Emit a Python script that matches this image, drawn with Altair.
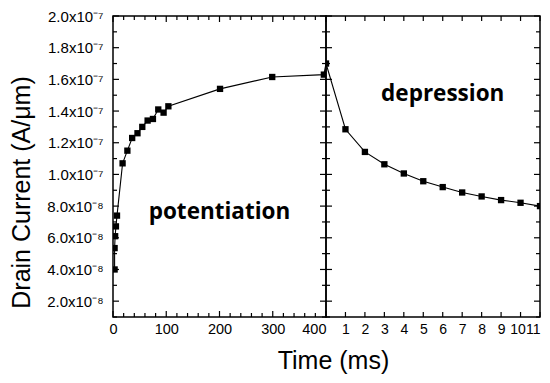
import altair as alt
import pandas as pd

# ---- data ----
# Potentiation branch: time (ms), drain current (A/um)
pot_time = [3, 3, 4, 5.5, 7.5, 18, 27, 36, 46, 55, 65, 75, 85, 95, 104, 201, 299, 396, 400]
pot_current = [4.0e-8, 5.35e-8, 6.1e-8, 6.72e-8, 7.4e-8, 1.07e-7, 1.15e-7, 1.23e-7, 1.26e-7,
               1.30e-7, 1.34e-7, 1.35e-7, 1.41e-7, 1.39e-7, 1.43e-7, 1.54e-7, 1.615e-7,
               1.63e-7, 1.70e-7]
# Depression branch: time (ms), drain current (A/um)
dep_time = [0, 1, 2, 3, 4, 5, 6, 7, 8, 9, 10, 11]
dep_current = [1.70e-7, 1.285e-7, 1.142e-7, 1.064e-7, 1.006e-7, 9.57e-8, 9.2e-8,
               8.86e-8, 8.61e-8, 8.38e-8, 8.21e-8, 8.0e-8]

# ticks
y_major = [2e-8, 4e-8, 6e-8, 8e-8, 1.0e-7, 1.2e-7, 1.4e-7, 1.6e-7, 1.8e-7, 2.0e-7]
y_minor = [1e-8, 3e-8, 5e-8, 7e-8, 9e-8, 1.1e-7, 1.3e-7, 1.5e-7, 1.7e-7, 1.9e-7]
x_left_major = [0, 100, 200, 300, 400]
x_left_minor = [20, 40, 60, 80, 120, 140, 160, 180, 220, 240, 260, 280, 320, 340, 360, 380]
x_right_major = [1, 2, 3, 4, 5, 6, 7, 8, 9, 10, 11]

# annotations
ann_left_text = ["potentiation"]
ann_left_t = [200]
ann_left_i = [7.65e-8]
ann_right_text = ["depression"]
ann_right_t = [6]
ann_right_i = [1.51e-7]

W_L, W_R, H = 213, 214, 301
FONT = "Liberation Sans"

pot_df = pd.DataFrame({"t": pot_time, "i": pot_current})
dep_df = pd.DataFrame({"t": dep_time, "i": dep_current})

y_scale = alt.Scale(domain=[1e-8, 2e-7], nice=False, zero=False)
label_expr = ("datum.value > 9.5e-8 ? format(datum.value*1e7, '.1f') + 'x10\u207b\u2077' "
              ": format(datum.value*1e8, '.1f') + 'x10\u207b\u2078'")

y_axis_left = alt.Axis(values=y_major, labelExpr=label_expr, title="Drain Current (A/\u03bcm)",
                       titleX=-79, titleY=176, titleAlign="center", labelOverlap=False,
                       labelPadding=10, labelFontSize=15)


def yenc(show):
    if show:
        return alt.Y("i:Q", scale=y_scale, axis=y_axis_left)
    return alt.Y("i:Q", scale=y_scale, axis=None)


def yticks(vals, length, width, show):
    df = pd.DataFrame({"i": vals})
    left = alt.Chart(df).mark_rule(color="black", strokeWidth=1.2).encode(
        y=yenc(show), x=alt.value(0), x2=alt.value(length))
    right = alt.Chart(df).mark_rule(color="black", strokeWidth=1.2).encode(
        y=yenc(show), x=alt.value(width - length), x2=alt.value(width))
    return [left, right]


def xticks(vals, length, xenc_fn):
    df = pd.DataFrame({"t": vals})
    top = alt.Chart(df).mark_rule(color="black", strokeWidth=1.2).encode(
        x=xenc_fn(), y=alt.value(0), y2=alt.value(length))
    bottom = alt.Chart(df).mark_rule(color="black", strokeWidth=1.2).encode(
        x=xenc_fn(), y=alt.value(H - length), y2=alt.value(H))
    return [top, bottom]


# ---- left panel ----
xl_scale = alt.Scale(domain=[0, 400], nice=False, zero=False)


def xl():
    return alt.X("t:Q", scale=xl_scale,
                 axis=alt.Axis(values=x_left_major, title="Time (ms)", labelFlush=False,
                               labelOverlap=False,
                               labelAlign={"condition": {"test": "datum.value == 400", "value": "right"},
                                           "value": "center"},
                               titleX=220, titleY=31, titleAlign="center", titleBaseline="top"))


left_line = alt.Chart(pot_df).mark_line(color="black", strokeWidth=1.1, clip=True).encode(
    x=xl(), y=yenc(True))
left_pts = alt.Chart(pot_df.iloc[:-1]).mark_square(color="black", size=40, opacity=1, clip=True).encode(
    x=xl(), y=yenc(True))
left_txt = alt.Chart(pd.DataFrame({"t": ann_left_t, "i": ann_left_i, "txt": ann_left_text})).mark_text(
    font="Open Sans", fontWeight="bold", fontSize=22.5, color="black", baseline="middle").encode(
    x=xl(), y=yenc(True), text="txt:N")

left_layers = ([left_line, left_pts, left_txt]
               + yticks(y_major, 6, W_L, True) + yticks(y_minor, 4, W_L, True)
               + xticks(x_left_major, 6, xl) + xticks(x_left_minor, 4, xl))
left = alt.layer(*left_layers).properties(width=W_L, height=H)

# ---- right panel ----
xr_scale = alt.Scale(domain=[0, 11], nice=False, zero=False)


def xr():
    return alt.X("t:Q", scale=xr_scale,
                 axis=alt.Axis(values=x_right_major, title=None, labelFlush=False,
                               labelOverlap=False, labelFontSize=14,
                               labelAlign={"condition": {"test": "datum.value == 11", "value": "right"},
                                           "value": "center"},
                               labelOffset={"condition": {"test": "datum.value == 10", "value": -3},
                                            "value": 0}))


right_line = alt.Chart(dep_df).mark_line(color="black", strokeWidth=1.1, clip=True).encode(
    x=xr(), y=yenc(False))
right_pts = alt.Chart(dep_df).mark_square(color="black", size=40, opacity=1, clip=True).encode(
    x=xr(), y=yenc(False))
right_txt = alt.Chart(pd.DataFrame({"t": ann_right_t, "i": ann_right_i, "txt": ann_right_text})).mark_text(
    font="Open Sans", fontWeight="bold", fontSize=22.5, color="black", baseline="middle").encode(
    x=xr(), y=yenc(False), text="txt:N")

right_layers = ([right_line, right_pts, right_txt]
                + yticks(y_major, 6, W_R, False) + yticks(y_minor, 4, W_R, False)
                + xticks(x_right_major, 5, xr))
right = alt.layer(*right_layers).properties(width=W_R, height=H)

chart = alt.hconcat(left, right, spacing=0, bounds="flush").configure(
    background="white", padding=0
).configure_view(
    stroke="black", strokeWidth=1.5
).configure_axis(
    domain=False, ticks=False, grid=False,
    labelFont=FONT, labelFontSize=14.5, labelColor="black", labelPadding=5,
    titleFont=FONT, titleFontSize=25, titleFontWeight="normal", titleColor="black",
)

chart.save("out.html", embed_options={"renderer": "svg", "actions": False})
